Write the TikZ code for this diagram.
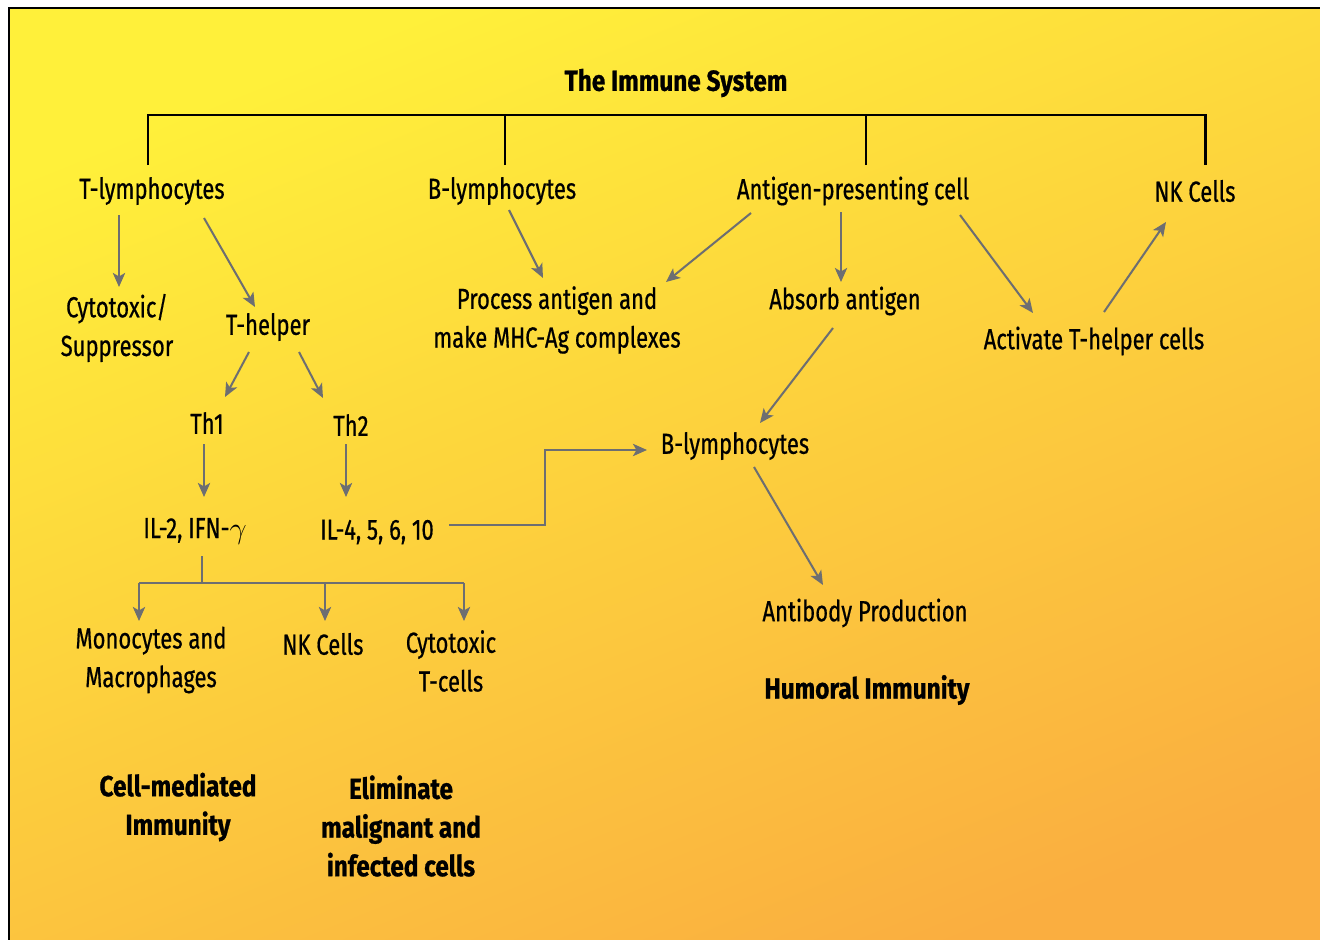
\documentclass[tikz,border=0pt]{standalone}
\usepackage{fontspec}
\setmainfont{Fira Sans}[FakeStretch=0.76,FakeBold=0.6,BoldFeatures={FakeStretch=0.84,FakeBold=0.8}]
\usetikzlibrary{calc,arrows.meta}
\definecolor{bgtop}{RGB}{255,240,58}
\definecolor{bgbot}{RGB}{250,174,64}
\definecolor{arrgray}{RGB}{109,110,113}
\newcommand*{\pxw}{0.02cm}
\tikzset{
	lbl/.style={
		inner sep=0pt,
		align=center,
		},
	hdr/.style={
		lbl,
		font=\fontsize{16.5}{22}\selectfont\bfseries,
		},
	arr/.style={
		draw=arrgray,
		line width=1.15pt,
		-{Stealth[length=8pt,width=7pt,inset=2pt]},
		},
	link/.style={
		draw=arrgray,
		line width=1.15pt,
		},
	bar/.style={
		draw=black,
		line width=1.7pt,
		}
	}

\begin{document}
\begin{tikzpicture}[x=\pxw,y=-\pxw,font=\fontsize{16.5}{22}\selectfont]
	\useasboundingbox (0,0) rectangle (1320,940);
	\shade [top color=bgtop, bottom color=bgbot, shading angle=22] (9,8) rectangle (1340,960);
	\draw [black, line width=1.2pt] (1340,8) -- (9,8) -- (9,960);

	\node (title) [hdr] at (676,83)  {The Immune System};

	\node (tly)  [lbl] at (152,191)  {T-lymphocytes};
	\node (bly)  [lbl] at (502,191)  {B-lymphocytes};
	\node (apc)  [lbl] at (853,191)  {Antigen-presenting cell};
	\node (nkt)  [lbl] at (1195,191) {NK Cells};

	\node (cyt)  [lbl] at (117,328)  {Cytotoxic/\\Suppressor};
	\node (th)   [lbl] at (268,327)  {T-helper};
	\node (proc) [lbl] at (557,320)  {Process antigen and\\make MHC-Ag complexes};
	\node (abs)  [lbl] at (845,301)  {Absorb antigen};
	\node (act)  [lbl] at (1094,341) {Activate T-helper cells};

	\node (th1)  [lbl] at (207,423)  {Th1};
	\node (th2)  [lbl] at (351,425)  {Th2};
	\node (blm)  [lbl] at (735,446)  {B-lymphocytes};

	\node (il2)  [lbl] at (195,531)  {IL-2, IFN-$\gamma$};
	\node (il4)  [lbl] at (377,532)  {IL-4, 5, 6, 10};
	\node (ab)   [lbl] at (865,613)  {Antibody Production};

	\node (mono) [lbl] at (151,660)  {Monocytes and\\Macrophages};
	\node (nkb)  [lbl] at (323,644)  {NK Cells};
	\node (ctc)  [lbl] at (451,661)  {Cytotoxic\\T-cells};
	\node (hum)  [hdr] at (867,690)  {Humoral Immunity};

	\node (cmi)  [hdr] at (178,807)  {Cell-mediated\\Immunity};
	\node (elim) [hdr] at (401,826)  {Eliminate\\malignant and\\infected cells};

	% top bracket
	\coordinate (top) at ($(title)+(0,32)$);
	\draw [bar] ($(tly)+(-4,-26)$) |- (top) -| ($(nkt)+(10,-26)$);
	\draw [bar] ($(bly)+(3,-26)$) -- ($(bly |- top)+(3,0)$);
	\draw [bar] ($(apc)+(13,-26)$) -- ($(apc |- top)+(13,0)$);

	% T side
	\draw [arr] ($(tly)+(-33,24)$) -- ($(cyt)+(2,-41)$);
	\draw [arr] ($(tly)+(52,27)$)  -- ($(th)+(-13,-20)$);
	\draw [arr] ($(th)+(-19,25)$)  -- ($(th1)+(18,-26)$);
	\draw [arr] ($(th)+(31,25)$)   -- ($(th2)+(-28,-27)$);
	\draw [arr] ($(th1)+(-3,21)$)  -- ($(il2)+(9,-34)$);
	\draw [arr] ($(th2)+(-5,19)$)  -- ($(il4)+(-31,-35)$);

	\coordinate (fork) at ($(il2)+(7,52)$);
	\draw [link] ($(il2)+(7,25)$) -- (fork);
	\draw [link] ($(mono)+(-12,-77)$) -- ($(ctc)+(13,-78)$);
	\foreach \n/\dx/\dy in {mono/-12/-39, nkb/2/-23, ctc/13/-40} {
		\draw [arr] (\n |- fork) ++(\dx,0) -- ($(\n)+(\dx,\dy)$);
		}

	\draw [arr] ($(il4)+(72,-7)$) -| ($(blm)+(-190,4)$) -- ($(blm)+(-88,4)$);

	% B / APC side
	\draw [arr] ($(bly)+(7,19)$)    -- ($(proc)+(-14,-42)$);
	\draw [arr] ($(apc)+(-102,22)$) -- ($(proc)+(109,-38)$);
	\draw [arr] ($(apc)+(-12,21)$)  -- ($(abs)+(-4,-19)$);
	\draw [arr] ($(apc)+(107,24)$)  -- ($(act)+(-61,-28)$);
	\draw [arr] ($(act)+(10,-29)$)  -- ($(nkt)+(-29,31)$);
	\draw [arr] ($(abs)+(-12,27)$)  -- ($(blm)+(25,-23)$);
	\draw [arr] ($(blm)+(19,21)$)   -- ($(ab)+(-42,-28)$);
\end{tikzpicture}
\end{document}
